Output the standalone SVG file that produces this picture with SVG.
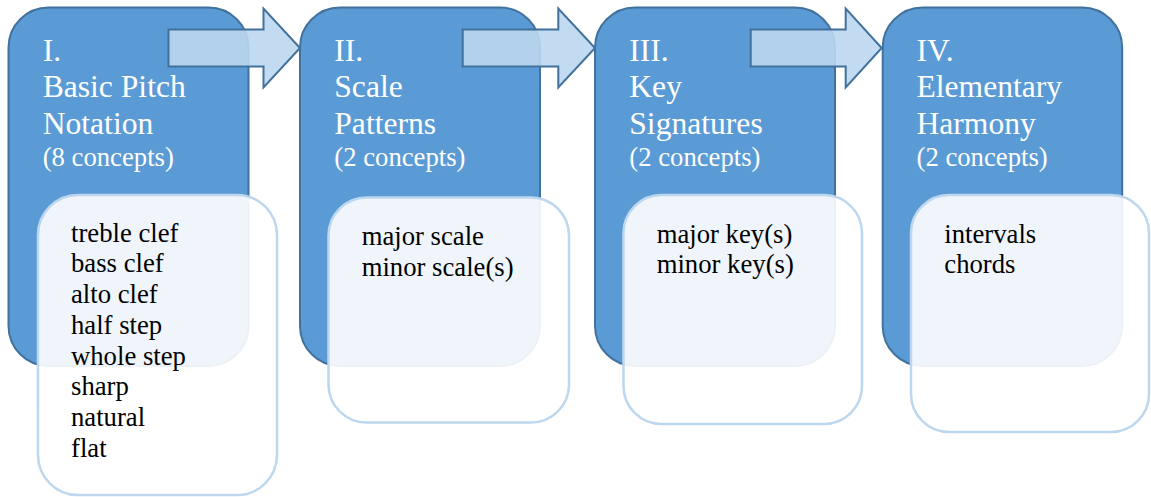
<svg xmlns="http://www.w3.org/2000/svg" width="1151" height="497" viewBox="0 0 1151 497">
<style>
.blk{fill:#5b9bd5;stroke:#41719c;stroke-width:2}
.arr{fill:#bdd7ee;fill-opacity:0.9;stroke:#41719c;stroke-width:2;stroke-linejoin:miter}
.box{fill:#ffffff;fill-opacity:0.9;stroke:#bdd7ee;stroke-width:2.5}
text{font-family:'Liberation Serif',Tinos,'Times New Roman',Times,serif}
.h{font-size:31.6px;fill:#ffffff}
.s{font-size:26.7px;fill:#ffffff}
.t{font-size:26.7px;fill:#000000}
</style>
<rect width="1151" height="497" fill="#ffffff"/>
<g id="step1">
<rect class="blk" x="8.5" y="7.5" width="240" height="358.5" rx="40" ry="40"/>
<text class="h" x="42.7" y="60.7">I.</text>
<text class="h" x="42.7" y="97.3">Basic Pitch</text>
<text class="h" x="42.7" y="134">Notation</text>
<text class="s" x="42.7" y="166">(8 concepts)</text>
</g>
<g id="step2">
<rect class="blk" x="300" y="7.5" width="240" height="358.5" rx="40" ry="40"/>
<text class="h" x="334.3" y="60.7">II.</text>
<text class="h" x="334.3" y="97.3">Scale</text>
<text class="h" x="334.3" y="134">Patterns</text>
<text class="s" x="334.3" y="166">(2 concepts)</text>
</g>
<g id="step3">
<rect class="blk" x="595" y="7.5" width="240" height="358.5" rx="40" ry="40"/>
<text class="h" x="629.3" y="60.7">III.</text>
<text class="h" x="629.3" y="97.3">Key</text>
<text class="h" x="629.3" y="134">Signatures</text>
<text class="s" x="629.3" y="166">(2 concepts)</text>
</g>
<g id="step4">
<rect class="blk" x="882.7" y="7.5" width="239.5" height="358.5" rx="40" ry="40"/>
<text class="h" x="916.5" y="60.7">IV.</text>
<text class="h" x="916.5" y="97.3">Elementary</text>
<text class="h" x="916.5" y="134">Harmony</text>
<text class="s" x="916.5" y="166">(2 concepts)</text>
</g>
<g id="connectors">
<path class="arr" d="M168.5,29.5 H263.5 V8.5 L300,48 L263.5,87.5 V66.5 H168.5 Z"/>
<path class="arr" d="M462.7,29.5 H558.3 V8.5 L595,48 L558.3,87.5 V66.5 H462.7 Z"/>
<path class="arr" d="M750.7,29.5 H845.7 V8.5 L881.7,48 L845.7,87.5 V66.5 H750.7 Z"/>
</g>
<g id="list1">
<rect class="box" x="38" y="195" width="239" height="300" rx="40" ry="40"/>
<text class="t" x="71" y="241.7">treble clef</text>
<text class="t" x="71" y="272.4">bass clef</text>
<text class="t" x="71" y="303.1">alto clef</text>
<text class="t" x="71" y="333.8">half step</text>
<text class="t" x="71" y="364.5">whole step</text>
<text class="t" x="71" y="395.2">sharp</text>
<text class="t" x="71" y="425.9">natural</text>
<text class="t" x="71" y="456.6">flat</text>
</g>
<g id="list2">
<rect class="box" x="328.5" y="197.5" width="240.5" height="225" rx="38" ry="38"/>
<text class="t" x="361.7" y="245">major scale</text>
<text class="t" x="361.7" y="275.7">minor scale(s)</text>
</g>
<g id="list3">
<rect class="box" x="623.5" y="195" width="238.5" height="229" rx="38" ry="38"/>
<text class="t" x="656.7" y="242.5">major key(s)</text>
<text class="t" x="656.7" y="273">minor key(s)</text>
</g>
<g id="list4">
<rect class="box" x="911" y="195" width="238" height="237" rx="38" ry="38"/>
<text class="t" x="944.3" y="243">intervals</text>
<text class="t" x="944.3" y="273">chords</text>
</g>
</svg>
